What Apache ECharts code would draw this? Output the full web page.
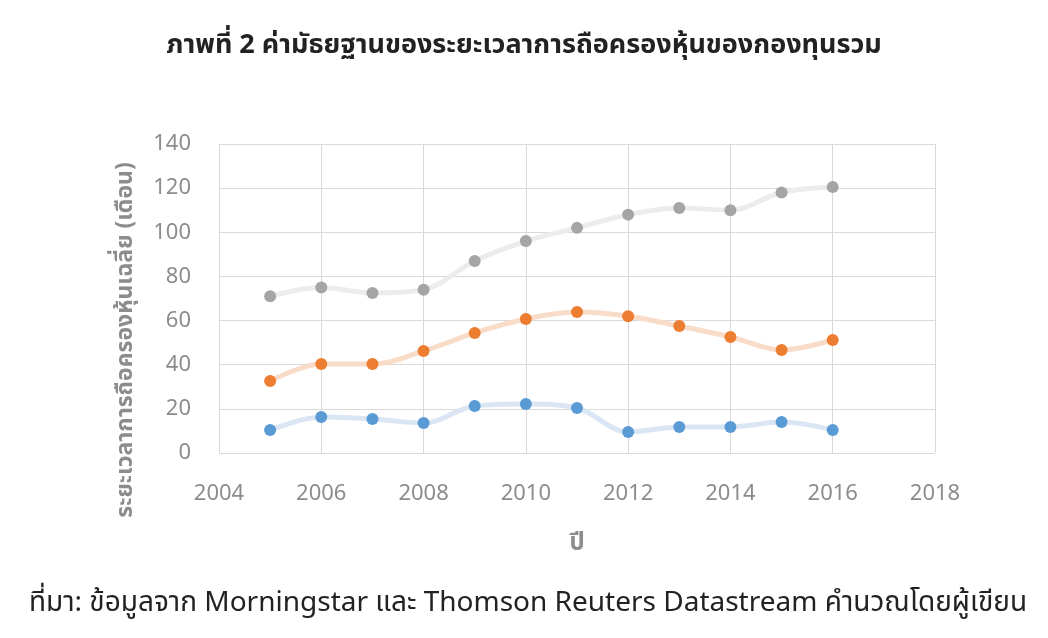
<!DOCTYPE html>
<html><head><meta charset="utf-8">
<script src="https://cdn.jsdelivr.net/npm/echarts@6/dist/echarts.min.js"></script>
<style>html,body{margin:0;padding:0;background:#fff}#c{width:1048px;height:638px}</style>
</head><body><div id="c"></div>
<script>
const years = [2005,2006,2007,2008,2009,2010,2011,2012,2013,2014,2015,2016];
const seriesGray = [71,75,72.5,74,87,96,102,108,111,110,118,120.5];
const seriesOrange = [32.6,40.3,40.3,46.2,54.4,60.7,63.9,62,57.5,52.6,46.7,51.2];
const seriesBlue = [10.4,16.3,15.4,13.6,21.3,22.2,20.4,9.5,11.8,11.8,14,10.4];
const titleText = 'ภาพที่ 2 ค่ามัธยฐานของระยะเวลาการถือครองหุ้นของกองทุนรวม';
const yName = 'ระยะเวลาการถือครองหุ้นเฉลี่ย (เดือน)';
const xName = 'ปี';
const sourceText = 'ที่มา: ข้อมูลจาก Morningstar และ Thomson Reuters Datastream คำนวณโดยผู้เขียน';

const font = '"Noto Sans", "Noto Sans Thai", "DejaVu Sans", sans-serif';
function mk(vals, lineColor, dotColor){
  return {
    type:'line', smooth:0.35, data: years.map((y,i)=>[y,vals[i]]),
    symbol:'circle', symbolSize:12,
    lineStyle:{color:lineColor,width:5},
    itemStyle:{color:dotColor},
    z: 2
  };
}
const chart = echarts.init(document.getElementById('c'));
chart.setOption({
  animation:false,
  textStyle:{fontFamily:font},
  title:{text:titleText,left:'center',top:27,textStyle:{fontSize:27,fontWeight:'bold',color:'#222',fontFamily:font}},
  grid:{left:219,right:113,top:144,bottom:185},
  xAxis:{type:'value',min:2004,max:2018,interval:2,
    name:xName,nameLocation:'middle',nameGap:78,
    nameTextStyle:{fontSize:24,fontWeight:'bold',color:'#8c8c8c'},
    axisLine:{show:false},axisTick:{show:false},
    axisLabel:{fontSize:22,color:'#8c8c8c',margin:30,formatter:v=>String(v)},
    splitLine:{lineStyle:{color:'#d9d9d9',width:1}}},
  yAxis:{type:'value',min:0,max:140,interval:20,
    axisLine:{show:false},axisTick:{show:false},
    axisLabel:{fontSize:22,color:'#8c8c8c',margin:28},
    splitLine:{lineStyle:{color:'#d9d9d9',width:1}}},
  graphic:[
    {type:'text',x:125,y:340,rotation:Math.PI/2,
      style:{text:yName,fill:'#8c8c8c',font:'bold 23px '+font,align:'center',verticalAlign:'middle'}},
    {type:'text',x:528,y:603,
      style:{text:sourceText,fill:'#222',font:'28px '+font,align:'center',verticalAlign:'middle'}}
  ],
  series:[
    mk(seriesGray,'#ececec','#a5a5a5'),
    mk(seriesOrange,'#f9dcc8','#ed7d31'),
    mk(seriesBlue,'#dbe6f4','#5b9bd5')
  ]
});
</script></body></html>
